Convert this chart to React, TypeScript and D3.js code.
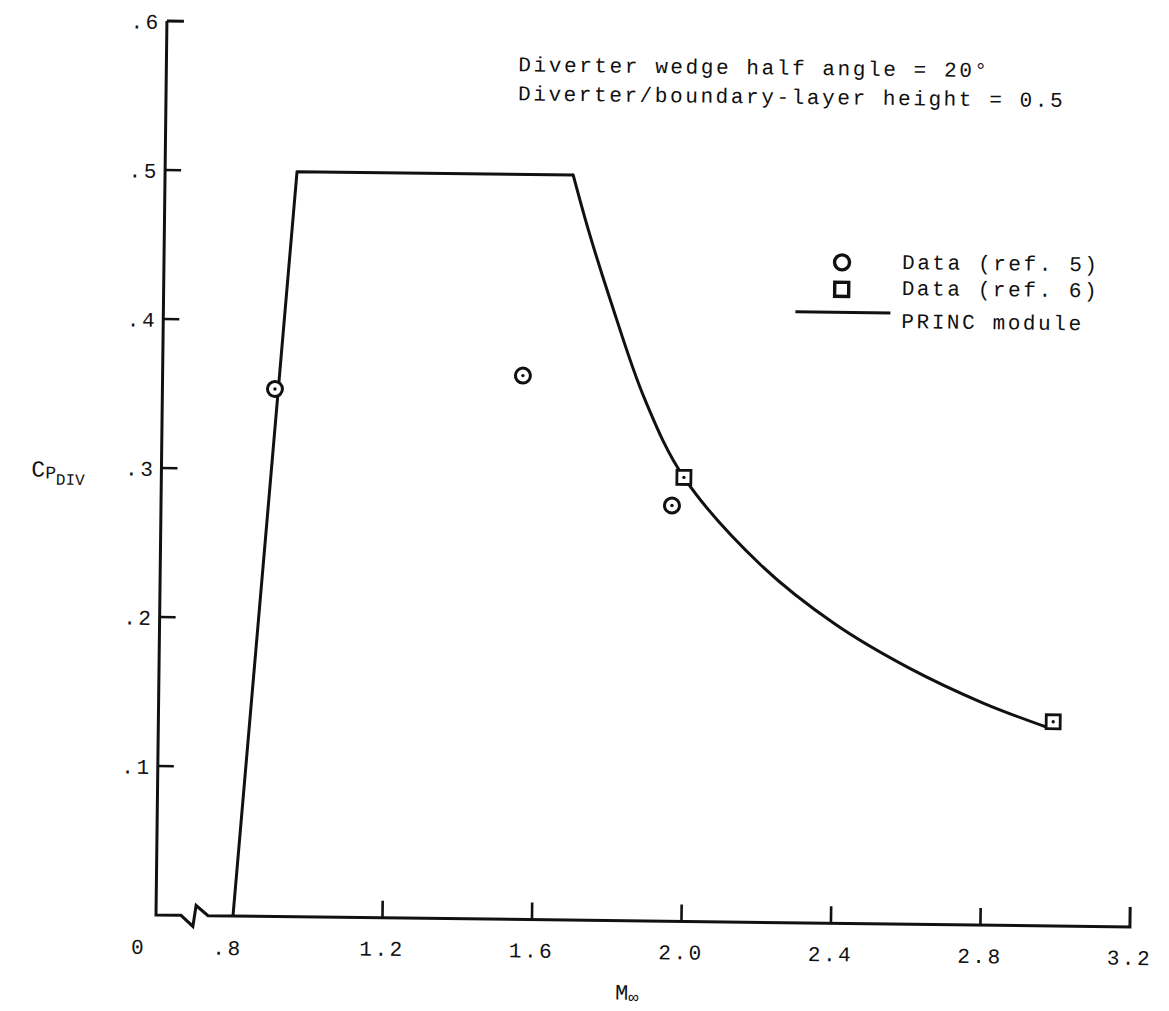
import React from "react";
import * as d3 from "d3";

// Free-stream Mach number vs. diverter pressure coefficient
const xTicks = [1.2, 1.6, 2.0, 2.4, 2.8];
const xTickLabels = ["1.2", "1.6", "2.0", "2.4", "2.8", "3.2"];
const xLabelValues = [1.2, 1.6, 2.0, 2.4, 2.8, 3.2];
const yTicks = [0.1, 0.2, 0.3, 0.4, 0.5];
const yTickLabels = [".1", ".2", ".3", ".4", ".5", ".6"];
const yLabelValues = [0.1, 0.2, 0.3, 0.4, 0.5, 0.6];

// PRINC module prediction: straight rise, plateau, then decay
const princLineMach = [0.8, 0.947, 1.686];
const princLineCp = [0.0, 0.5, 0.5];
const princCurveMach = [1.686, 1.73, 1.79, 1.885, 1.992, 2.2, 2.4, 2.6, 2.8, 2.975];
const princCurveCp = [0.5, 0.462, 0.416, 0.35, 0.298, 0.24, 0.201, 0.172, 0.149, 0.133];

// Data (ref. 5), circles
const ref5Mach = [0.895, 1.558, 1.961];
const ref5Cp = [0.354, 0.365, 0.279];

// Data (ref. 6), squares
const ref6Mach = [1.992, 2.988];
const ref6Cp = [0.298, 0.137];

const FONT = "'Liberation Mono', 'DejaVu Sans Mono', monospace";
const INK = "#111";

export default function App() {
  const W = 1169;
  const H = 1011;
  const axisX = 156;
  const axisY = 915;

  const x = d3.scaleLinear().domain([0.8, 3.2]).range([233, 1130]);
  const y = d3.scaleLinear().domain([0, 0.6]).range([axisY, 21]);

  const linePts: [number, number][] = princLineMach.map((m, i) => [m, princLineCp[i]]);
  const curvePts: [number, number][] = princCurveMach.map((m, i) => [m, princCurveCp[i]]);

  const straight = d3
    .line<[number, number]>()
    .x((d) => x(d[0]))
    .y((d) => y(d[1]));
  const smooth = d3
    .line<[number, number]>()
    .x((d) => x(d[0]))
    .y((d) => y(d[1]))
    .curve(d3.curveCatmullRom.alpha(0.5));

  // x axis with a break symbol between 0 and .8, ending with an upturned tick at 3.2
  const axisPath = [
    `M${axisX},${y(0.6)}`,
    `L${axisX},${axisY}`,
    `L${axisX + 25},${axisY}`,
    `L${axisX + 37},${axisY + 11}`,
    `L${axisX + 40},${axisY - 10}`,
    `L${axisX + 52},${axisY}`,
    `L${x(3.2)},${axisY}`,
    `L${x(3.2)},${axisY - 20}`,
  ].join(" ");

  const textStyle: React.CSSProperties = {
    fontFamily: FONT,
    fontSize: 21,
    letterSpacing: 2.6,
    fill: INK,
  };

  return (
    <svg
      width={W}
      height={H}
      viewBox={`0 0 ${W} ${H}`}
      style={{ position: "absolute", left: 0, top: 0, background: "#fff" }}
    >
      <rect width={W} height={H} fill="#fff" />
      <g transform={`rotate(0.7, ${axisX}, ${axisY})`}>
        {/* axes */}
        <path d={axisPath} fill="none" stroke={INK} strokeWidth={3} strokeLinejoin="miter" />
        <line x1={axisX} x2={axisX + 17} y1={y(0.6)} y2={y(0.6)} stroke={INK} strokeWidth={3} />
        {yTicks.map((t) => (
          <line key={`yt${t}`} x1={axisX} x2={axisX + 16} y1={y(t)} y2={y(t)} stroke={INK} strokeWidth={2.6} />
        ))}
        {xTicks.map((t) => (
          <line key={`xt${t}`} x1={x(t)} x2={x(t)} y1={axisY} y2={axisY - 17} stroke={INK} strokeWidth={2.6} />
        ))}

        {/* tick labels */}
        {yLabelValues.map((v, i) => (
          <text key={`yl${v}`} x={axisX - 6} y={y(v)} dy="0.38em" textAnchor="end" style={textStyle}>
            {yTickLabels[i]}
          </text>
        ))}
        <text x={139} y={axisY + 39} textAnchor="middle" style={textStyle}>0</text>
        <text x={x(0.8) - 5} y={axisY + 39} textAnchor="middle" style={textStyle}>.8</text>
        {xLabelValues.map((v, i) => (
          <text key={`xl${v}`} x={x(v)} y={axisY + 38} textAnchor="middle" style={textStyle}>
            {xTickLabels[i]}
          </text>
        ))}

        {/* axis titles */}
        <text x={616} y={994} style={{ ...textStyle, fontSize: 22, letterSpacing: 0 }}>
          M
          <tspan dy={3} style={{ fontSize: 17 }}>∞</tspan>
        </text>
        <text x={26} y={478} style={{ ...textStyle, fontSize: 23, letterSpacing: 0 }}>
          C
          <tspan dy={2} style={{ fontSize: 18 }}>P</tspan>
          <tspan dy={6} style={{ fontSize: 16 }}>DIV</tspan>
        </text>

        {/* PRINC module prediction */}
        <path d={straight(linePts) as string} fill="none" stroke={INK} strokeWidth={3} strokeLinejoin="round" />
        <path d={smooth(curvePts) as string} fill="none" stroke={INK} strokeWidth={3} strokeLinecap="round" />

        {/* data, ref. 5 */}
        {ref5Mach.map((m, i) => (
          <g key={`c${i}`} transform={`translate(${x(m)},${y(ref5Cp[i])})`}>
            <circle r={7.5} fill="#fff" stroke={INK} strokeWidth={3} />
            <circle r={1.7} fill={INK} />
          </g>
        ))}
        {/* data, ref. 6 */}
        {ref6Mach.map((m, i) => (
          <g key={`s${i}`} transform={`translate(${x(m)},${y(ref6Cp[i])})`}>
            <rect x={-7} y={-7} width={14} height={14} fill="#fff" stroke={INK} strokeWidth={2.8} />
            <circle r={1.7} fill={INK} />
          </g>
        ))}

        {/* notes */}
        <text x={508} y={67} style={textStyle}>Diverter wedge half angle = 20°</text>
        <text x={508} y={96} style={textStyle}>Diverter/boundary-layer height = 0.5</text>

        {/* legend */}
        <circle cx={834} cy={254} r={7.5} fill="#fff" stroke={INK} strokeWidth={3.4} />
        <text x={894} y={260} style={textStyle}>Data (ref. 5)</text>
        <rect x={827} y={274} width={14} height={14} fill="#fff" stroke={INK} strokeWidth={3.4} />
        <text x={894} y={286} style={textStyle}>Data (ref. 6)</text>
        <line x1={788} x2={883} y1={304} y2={304} stroke={INK} strokeWidth={3} />
        <text x={894} y={319} style={textStyle}>PRINC module</text>
      </g>
    </svg>
  );
}
